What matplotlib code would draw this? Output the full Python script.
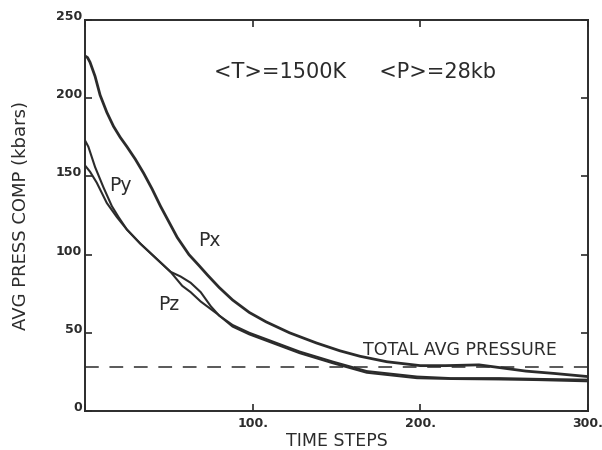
import numpy as np
import matplotlib
matplotlib.use("Agg")
import matplotlib.pyplot as plt

# ----------------------------------
# Data
# ----------------------------------
PX_T = [0, 1.5, 3, 6, 9, 13, 17, 21, 25, 30, 35, 40, 45, 50, 55, 62, 68, 73,
        80, 88, 98, 108, 122, 138, 152, 164, 180, 200, 215, 235, 263, 280, 300]
PX = [227, 226, 223, 214, 202, 191, 182, 175, 169, 161, 152, 142, 131, 121,
      111, 100, 93, 87, 79, 71, 63, 57, 50, 43.5, 38.5, 35, 31.5, 29, 29, 29.5,
      25.5, 24, 22]

PY_T = [0, 2, 6, 11, 16, 20, 25, 33, 42, 51, 58, 63, 69, 79, 88, 98, 108, 128,
        148, 168, 198, 218, 247, 270, 300]
PY = [173, 169, 156, 143, 131, 124, 116, 107, 98, 89, 80, 76, 70, 62, 54, 49,
      45, 37, 30.5, 24.5, 21, 20.5, 20.2, 19.8, 19]

PZ_T = [0, 3, 7, 13, 19, 25, 33, 42, 51, 57, 63, 69, 75, 80, 88, 98, 108, 128,
        148, 168, 198, 218, 247, 270, 300]
PZ = [157, 153, 146, 133, 124, 116, 107, 98, 89, 86, 82, 76, 67, 61, 55, 50,
      46, 38, 31.5, 25.5, 22, 21, 21, 20.5, 20]

TOTAL_AVG = 28

Y_TICKS = [0, 50, 100, 150, 200, 250]
Y_LABELS = ["0", "50", "100", "150", "200", "250"]
X_TICKS = [0, 100, 200, 300]
X_LABELS = ["", "100.", "200.", "300."]

INK = "#2b2b2b"

# ----------------------------------
# Figure
# ----------------------------------
fig = plt.figure(figsize=(6.02, 4.5), dpi=100)
ax = fig.add_axes([85 / 602, 1 - 411 / 450, (588 - 85) / 602, (411 - 20) / 450])

ax.plot(PX_T, PX, color=INK, lw=2.0, solid_joinstyle="round")
ax.plot(PY_T, PY, color=INK, lw=1.5, solid_joinstyle="round")
ax.plot(PZ_T, PZ, color=INK, lw=1.5, solid_joinstyle="round")

dash, = ax.plot([0, 300], [TOTAL_AVG, TOTAL_AVG], color=INK, lw=1.1)
dash.set_dashes((9, 7))

ax.set_xlim(0, 300)
ax.set_ylim(0, 250)

ax.set_xticks(X_TICKS)
ax.set_xticklabels(X_LABELS, fontsize=9, fontweight="bold", color=INK)
ax.set_yticks(Y_TICKS)
ax.set_yticklabels(Y_LABELS, fontsize=9, fontweight="bold", color=INK)
for lbl in ax.get_yticklabels():
    lbl.set_verticalalignment("baseline")

ax.tick_params(direction="in", length=5, width=1.2, color=INK,
               top=True, right=True)
ax.tick_params(axis="y", pad=2)
ax.tick_params(axis="x", pad=4)
for sp in ax.spines.values():
    sp.set_linewidth(1.4)
    sp.set_color(INK)

ax.set_xlabel("TIME STEPS", fontsize=12.5, color=INK, labelpad=2)
ax.set_ylabel("AVG PRESS COMP (kbars)", fontsize=13, color=INK, labelpad=19)

# annotations
ax.text(77, 217, "<T>=1500K     <P>=28kb", fontsize=15, color=INK,
        va="center", ha="left")
ax.text(21, 144, "Py", fontsize=13.5, color=INK, ha="center", va="center")
ax.text(74, 109, "Px", fontsize=13.5, color=INK, ha="center", va="center")
ax.text(50, 68, "Pz", fontsize=13.5, color=INK, ha="center", va="center")
ax.text(166, 39, "TOTAL AVG PRESSURE", fontsize=12.5, color=INK,
        ha="left", va="center")

fig.savefig("out.png", dpi=100)
